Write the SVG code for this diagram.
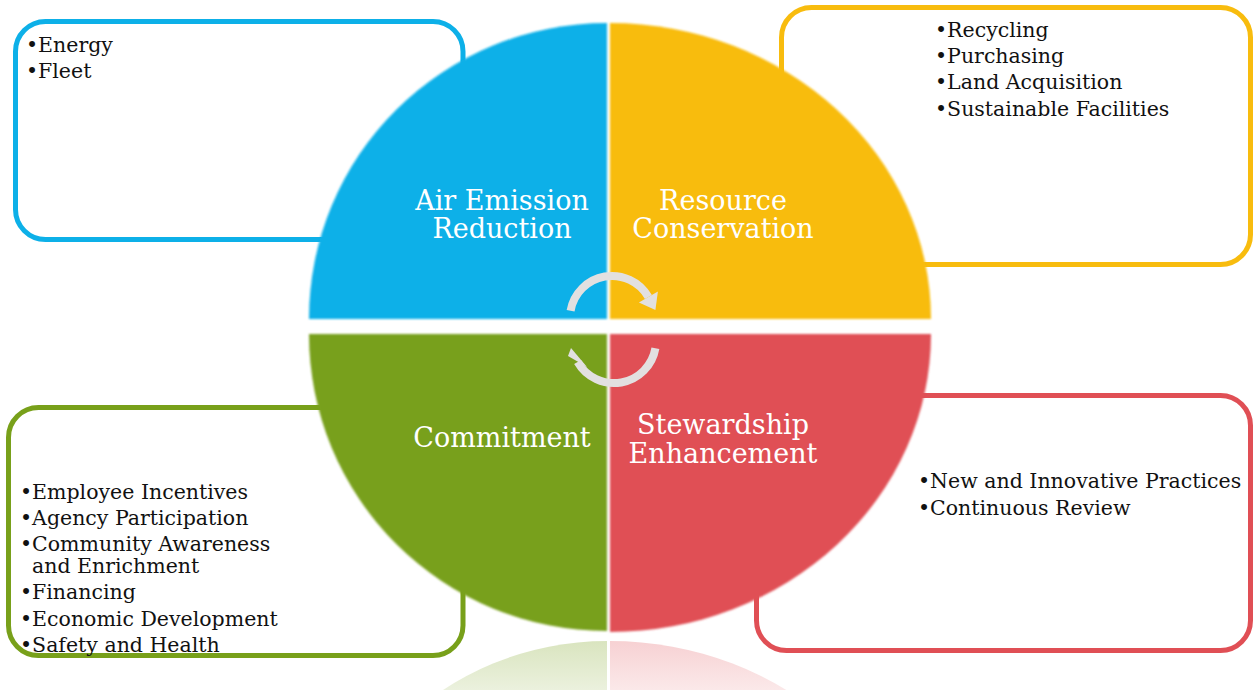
<svg xmlns="http://www.w3.org/2000/svg" width="1254" height="690" viewBox="0 0 1254 690">
  <style>
    .box { fill: #ffffff; stroke-width: 5; }
    .item { font-family: "DejaVu Serif", "Liberation Serif", serif; font-size: 20.5px; fill: #111111; }
    .label { font-family: "DejaVu Serif", "Liberation Serif", serif; font-size: 27px; fill: #ffffff; text-anchor: middle; }
    .cycle { fill: none; stroke: #e2e0e0; stroke-width: 8; }
    .head { fill: #e2e0e0; }
  </style>
  <defs>
    <filter id="soft" x="-5%" y="-5%" width="110%" height="110%">
      <feGaussianBlur stdDeviation="0.8"/>
    </filter>
    <linearGradient id="reflGreen" x1="0" y1="641" x2="0" y2="700" gradientUnits="userSpaceOnUse">
      <stop offset="0" stop-color="#78a01a" stop-opacity="0.28"/>
      <stop offset="1" stop-color="#78a01a" stop-opacity="0.12"/>
    </linearGradient>
    <linearGradient id="reflRed" x1="0" y1="641" x2="0" y2="700" gradientUnits="userSpaceOnUse">
      <stop offset="0" stop-color="#e04f55" stop-opacity="0.26"/>
      <stop offset="1" stop-color="#e04f55" stop-opacity="0.10"/>
    </linearGradient>
  </defs>

  <rect width="1254" height="690" fill="#ffffff"/>

  <!-- outline boxes listing each theme's programs -->
  <g id="box-air">
    <rect class="box" x="15.5" y="21.5" width="447.5" height="218" rx="30" stroke="#0db0e8"/>
    <text class="item" x="26" y="52">•Energy</text>
    <text class="item" x="26" y="78">•Fleet</text>
  </g>
  <g id="box-resource">
    <rect class="box" x="781.5" y="7.5" width="469" height="257" rx="30" stroke="#f8bc0e"/>
    <text class="item" x="935" y="37">•Recycling</text>
    <text class="item" x="935" y="63">•Purchasing</text>
    <text class="item" x="935" y="89">•Land Acquisition</text>
    <text class="item" x="935" y="116">•Sustainable Facilities</text>
  </g>
  <g id="box-commitment">
    <rect class="box" x="8.5" y="407.5" width="454.5" height="248" rx="30" stroke="#78a01a"/>
    <text class="item" x="20" y="499">•Employee Incentives</text>
    <text class="item" x="20" y="525">•Agency Participation</text>
    <text class="item" x="20" y="551">•Community Awareness</text>
    <text class="item" x="32" y="573">and Enrichment</text>
    <text class="item" x="20" y="599">•Financing</text>
    <text class="item" x="20" y="626">•Economic Development</text>
    <text class="item" x="20" y="652">•Safety and Health</text>
  </g>
  <g id="box-stewardship">
    <rect class="box" x="756.5" y="395.5" width="494" height="255" rx="30" stroke="#e04f55"/>
    <text class="item" x="918" y="488">•New and Innovative Practices</text>
    <text class="item" x="918" y="515">•Continuous Review</text>
  </g>

  <!-- faded mirror image of the lower half of the wheel -->
  <g id="reflection">
    <path d="M607,938 L309,938 A298,297 0 0 1 607,641 Z" fill="url(#reflGreen)"/>
    <path d="M610,641 A321,298 0 0 1 931,938 L610,938 Z" fill="url(#reflRed)"/>
  </g>

  <!-- four quadrants of the wheel -->
  <g id="q-air" filter="url(#soft)">
    <path d="M607,319 L309,319 A298,296 0 0 1 607,23 Z" fill="#0db0e8"/>
  </g>
  <g id="q-resource" filter="url(#soft)">
    <path d="M610,319 L610,23 A321,296 0 0 1 931,319 Z" fill="#f8bc0e"/>
  </g>
  <g id="q-commitment" filter="url(#soft)">
    <path d="M607,334 L607,631 A298,297 0 0 1 309,334 Z" fill="#78a01a"/>
  </g>
  <g id="q-stewardship" filter="url(#soft)">
    <path d="M610,334 L931,334 A321,298 0 0 1 610,632 Z" fill="#e04f55"/>
  </g>

  <g id="labels">
    <text class="label" x="502" y="210">Air Emission</text>
    <text class="label" x="502" y="238">Reduction</text>
    <text class="label" x="723" y="210">Resource</text>
    <text class="label" x="723" y="238">Conservation</text>
    <text class="label" x="502" y="447">Commitment</text>
    <text class="label" x="723" y="434">Stewardship</text>
    <text class="label" x="723" y="463">Enhancement</text>
  </g>

  <!-- circular arrows in the centre -->
  <g id="connectors">
    <path class="cycle" d="M570.6,310.7 A42,42 0 0 1 648.4,297"/>
    <polygon class="head" points="657.9,291.5 638.9,302.5 655.4,310"/>
    <path class="cycle" d="M655.4,348.3 A42,42 0 0 1 577.6,362"/>
    <polygon class="head" points="568,356 587,367 571,348"/>
  </g>
</svg>
